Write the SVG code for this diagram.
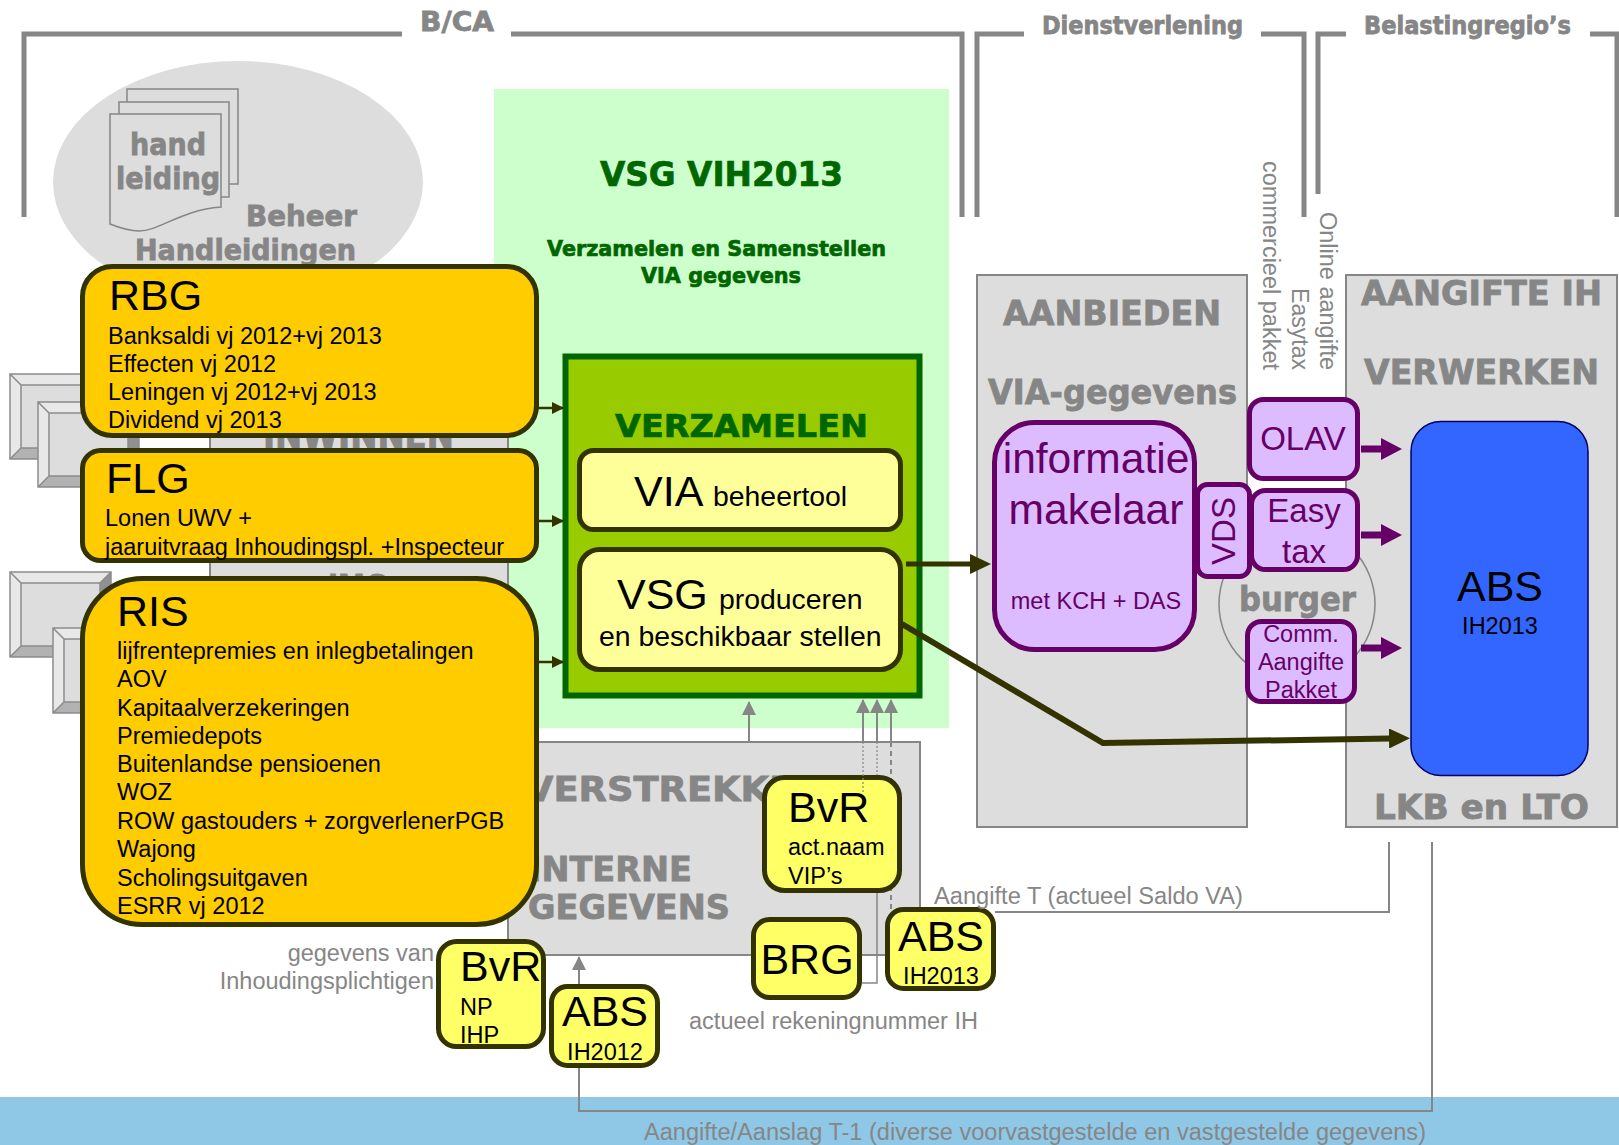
<svg xmlns="http://www.w3.org/2000/svg" width="1619" height="1145" viewBox="0 0 1619 1145">
<style>
text{font-family:"Liberation Sans",Arial,sans-serif}
.h{font-family:"DejaVu Sans",sans-serif;font-weight:bold;fill:#868686;stroke:#868686;stroke-width:.8px;font-size:34px}
.hs{font-size:24px}
.gb{font-family:"DejaVu Sans",sans-serif;font-weight:bold;fill:#006600;stroke:#006600;stroke-width:.7px}
.br{fill:none;stroke:#868686;stroke-width:5}
.panel{fill:#ddd;stroke:#868686;stroke-width:2}
.or{fill:#ffcc00;stroke:#333300;stroke-width:5}
.ye{fill:#ffff66;stroke:#333300;stroke-width:5}
.ly{fill:#ffff99;stroke:#333300;stroke-width:5}
.pu{fill:#dcbcff;stroke:#660066;stroke-width:5}
.pt{fill:#660066;text-anchor:middle}
.big{font-size:43px;fill:#000}
.sm{font-size:23.5px;fill:#000}
.md{font-size:28.4px;fill:#000}
.gt{font-size:23.5px;fill:#868686}
.m{text-anchor:middle}
.sheet{fill:#ddd;stroke:#868686;stroke-width:1.5}
.c{fill:none;stroke:#868686;stroke-width:2}
.d{fill:none;stroke:#333300}
.p{fill:none;stroke:#660066;stroke-width:7}
</style>
<defs>
<marker id="ag" markerUnits="userSpaceOnUse" markerWidth="14" markerHeight="14" refX="13" refY="7" orient="auto"><path d="M0 0L14 7L0 14Z" fill="#868686"/></marker>
<marker id="ad" markerUnits="userSpaceOnUse" markerWidth="12" markerHeight="12" refX="11" refY="6" orient="auto"><path d="M0 0L12 6L0 12Z" fill="#333300"/></marker>
<marker id="ab" markerUnits="userSpaceOnUse" markerWidth="21" markerHeight="20" refX="1" refY="10" orient="auto"><path d="M0 0L21 10L0 20Z" fill="#333300"/></marker>
<marker id="ap" markerUnits="userSpaceOnUse" markerWidth="21" markerHeight="22" refX="1" refY="11" orient="auto"><path d="M0 0L21 11L0 22Z" fill="#660066"/></marker>
<g id="bevel">
<rect width="101" height="85" fill="#ddd"/>
<path d="M0 0H101L90 11H11V74L0 85Z" fill="#e8e8e8"/>
<path d="M101 0V85L90 74V11Z" fill="#909090"/>
<path d="M0 85H101L90 74H11Z" fill="#b2b2b2"/>
<path d="M0 0H101V85H0ZM0 0L11 11H90V74H11V11M101 0L90 11M0 85L11 74M101 85L90 74" fill="none" stroke="#8c8c8c" stroke-width="1.5"/>
</g>
</defs>
<rect width="1619" height="1145" fill="#fff"/>
<rect id="band" y="1097" width="1619" height="48" fill="#8ec8e6"/>
<g id="headers">
<path class="br" d="M24 217V34H402"/><path class="br" d="M511 34H962V217"/>
<path class="br" d="M977 217V34H1024"/><path class="br" d="M1261 34H1304V217"/>
<path class="br" d="M1318 194V34H1346"/><path class="br" d="M1590 34H1617V217"/>
<text class="h" style="font-size:27px" x="420" y="31" textLength="74" lengthAdjust="spacingAndGlyphs">B/CA</text>
<text class="h hs" x="1042" y="34" textLength="201" lengthAdjust="spacingAndGlyphs">Dienstverlening</text>
<text class="h hs" x="1364" y="34" textLength="207" lengthAdjust="spacingAndGlyphs">Belastingregio’s</text>
</g>
<g id="handleidingen">
<ellipse cx="238" cy="182" rx="185" ry="121" fill="#ddd"/>
<rect class="sheet" x="127" y="89" width="111" height="95"/>
<rect class="sheet" x="119" y="102" width="110" height="95"/>
<path class="sheet" d="M110 114H221V207C180 210 160 231 139 231C128 231 120 228 110 224Z"/>
<text class="h" style="font-size:30px" x="130" y="155" textLength="76" lengthAdjust="spacingAndGlyphs">hand</text>
<text class="h" style="font-size:30px" x="116" y="189" textLength="104" lengthAdjust="spacingAndGlyphs">leiding</text>
<text class="h" style="font-size:28px" x="246" y="226" textLength="111" lengthAdjust="spacingAndGlyphs">Beheer</text>
<text class="h" style="font-size:28px" x="135" y="260" textLength="221" lengthAdjust="spacingAndGlyphs">Handleidingen</text>
</g>
<g id="vsg-bg">
<rect x="494" y="89" width="455" height="639" fill="#ccffcc"/>
<text class="gb" style="font-size:34px" x="600" y="186" textLength="243" lengthAdjust="spacingAndGlyphs">VSG VIH2013</text>
<text class="gb" style="font-size:21px" x="547" y="256" textLength="339" lengthAdjust="spacingAndGlyphs">Verzamelen en Samenstellen</text>
<text class="gb" style="font-size:21px" x="641" y="283" textLength="160" lengthAdjust="spacingAndGlyphs">VIA gegevens</text>
</g>
<g id="inwinnen">
<use href="#bevel" x="10" y="374"/>
<use href="#bevel" x="38" y="402"/>
<use href="#bevel" x="10" y="572"/>
<use href="#bevel" x="53" y="628"/>
<rect class="panel" x="210" y="300" width="298" height="500"/>
<text class="h" x="263" y="448" textLength="191" lengthAdjust="spacingAndGlyphs">INWINNEN</text>
<text class="h" x="328" y="599" textLength="59" lengthAdjust="spacingAndGlyphs">IMG</text>
</g>
<g id="verstrekken">
<rect class="panel" x="508" y="742" width="412" height="213"/>
<text class="h" x="525" y="801" textLength="300" lengthAdjust="spacingAndGlyphs">VERSTREKKEN</text>
<text class="h" x="529" y="881" textLength="163" lengthAdjust="spacingAndGlyphs">INTERNE</text>
<text class="h" x="528" y="919" textLength="202" lengthAdjust="spacingAndGlyphs">GEGEVENS</text>
</g>
<g id="aanbieden">
<rect class="panel" x="977" y="275" width="270" height="552"/>
<text class="h" x="1003" y="325" textLength="218" lengthAdjust="spacingAndGlyphs">AANBIEDEN</text>
<text class="h" x="988" y="404" textLength="249" lengthAdjust="spacingAndGlyphs">VIA-gegevens</text>
</g>
<g id="aangifte">
<rect class="panel" x="1346" y="275" width="271" height="552"/>
<text class="h" x="1361" y="305" textLength="241" lengthAdjust="spacingAndGlyphs">AANGIFTE IH</text>
<text class="h" x="1364" y="384" textLength="235" lengthAdjust="spacingAndGlyphs">VERWERKEN</text>
<text class="h" x="1374" y="819" textLength="215" lengthAdjust="spacingAndGlyphs">LKB en LTO</text>
</g>
<g id="burger">
<circle cx="1297" cy="604" r="78" fill="#ddd" stroke="#868686" stroke-width="1.5"/>
<text class="h" x="1239" y="611" textLength="117" lengthAdjust="spacingAndGlyphs">burger</text>
</g>
<g id="rotated-labels">
<text class="gt" transform="translate(1263 161) rotate(90)" textLength="209" lengthAdjust="spacingAndGlyphs">commercieel pakket</text>
<text class="gt" transform="translate(1292 288) rotate(90)" textLength="82" lengthAdjust="spacingAndGlyphs">Easytax</text>
<text class="gt" transform="translate(1320 212) rotate(90)" textLength="158" lengthAdjust="spacingAndGlyphs">Online aangifte</text>
</g>
<g id="verzamelen">
<rect x="565.5" y="356.5" width="354" height="339" fill="#99cc00" stroke="#006600" stroke-width="6"/>
<text class="gb" style="font-size:32px" x="615" y="437" textLength="253" lengthAdjust="spacingAndGlyphs">VERZAMELEN</text>
</g>
<g id="via">
<rect class="ly" x="579.5" y="450.5" width="321" height="79" rx="14"/>
<text class="big" x="634" y="506">VIA</text>
<text class="md" x="713" y="506">beheertool</text>
</g>
<g id="vsg">
<rect class="ly" x="579.5" y="549.5" width="321" height="120" rx="20"/>
<text class="big" x="617" y="609">VSG</text>
<text class="md" x="719" y="609">produceren</text>
<text class="md" x="599" y="646">en beschikbaar stellen</text>
</g>
<g id="connectors">
<path class="d" stroke-width="2.5" marker-end="url(#ad)" d="M538 408H563"/>
<path class="d" stroke-width="2.5" marker-end="url(#ad)" d="M538 521H563"/>
<path class="d" stroke-width="2.5" marker-end="url(#ad)" d="M538 662H563"/>
<path class="d" stroke-width="5" marker-end="url(#ab)" d="M906 564H971"/>
<path class="d" stroke-width="6" marker-end="url(#ab)" d="M902 624L1103 743L1390 738.5"/>
<path class="p" marker-end="url(#ap)" d="M1361 449H1382"/>
<path class="p" marker-end="url(#ap)" d="M1361 535H1382"/>
<path class="p" marker-end="url(#ap)" d="M1361 648H1382"/>
<path class="c" marker-end="url(#ag)" d="M749 742V702"/>
<path class="c" marker-end="url(#ag)" d="M863 742V700"/>
<path class="c" marker-end="url(#ag)" d="M877 742V700"/>
<path class="c" marker-end="url(#ag)" d="M891 742V700"/>
<path class="c" stroke-dasharray="5 4" d="M891 742V910"/>
<path class="c" style="stroke-width:1.2" stroke-dasharray="2 2" d="M877 742V780"/>
<path class="c" style="stroke-width:1.5" d="M877 890V983H862"/>
<path class="c" d="M1389 842V912H995"/>
<path class="c" marker-end="url(#ag)" d="M1432 842V1111H579V957"/>
</g>
<g id="info">
<rect class="pu" x="994.5" y="422.5" width="200" height="227" rx="40"/>
<text class="pt" style="font-size:42.5px" x="1096" y="473">informatie</text>
<text class="pt" style="font-size:42.5px" x="1096" y="524">makelaar</text>
<text class="pt" style="font-size:23.5px" x="1096" y="609">met KCH + DAS</text>
</g>
<g id="vds">
<rect class="pu" x="1197.5" y="484.5" width="52" height="92" rx="10"/>
<text class="pt" style="font-size:33px" transform="translate(1235 531) rotate(-90)">VDS</text>
</g>
<g id="olav">
<rect class="pu" x="1249.5" y="399.5" width="108" height="79" rx="14"/>
<text class="pt" style="font-size:33px" x="1303" y="450">OLAV</text>
</g>
<g id="easytax">
<rect class="pu" x="1251.5" y="490.5" width="106" height="79" rx="14"/>
<text class="pt" style="font-size:33px" x="1304" y="522">Easy</text>
<text class="pt" style="font-size:33px" x="1304" y="563">tax</text>
</g>
<g id="comm">
<rect class="pu" x="1247.5" y="621.5" width="107" height="80" rx="14"/>
<text class="pt" style="font-size:23.5px" x="1301" y="642">Comm.</text>
<text class="pt" style="font-size:23.5px" x="1301" y="670">Aangifte</text>
<text class="pt" style="font-size:23.5px" x="1301" y="698">Pakket</text>
</g>
<g id="abs-blue">
<rect x="1411" y="421.5" width="177" height="354" rx="30" fill="#3366ff" stroke="#000066" stroke-width="1.5"/>
<text class="big m" x="1500" y="601">ABS</text>
<text class="sm m" x="1500" y="634">IH2013</text>
</g>
<g id="rbg">
<rect class="or" x="82.5" y="266.5" width="454" height="169" rx="30"/>
<text class="big" x="109" y="310">RBG</text>
<text class="sm" x="108" y="344">Banksaldi vj 2012+vj 2013</text>
<text class="sm" x="108" y="372">Effecten vj 2012</text>
<text class="sm" x="108" y="400">Leningen vj 2012+vj 2013</text>
<text class="sm" x="108" y="428">Dividend vj 2013</text>
</g>
<g id="flg">
<rect class="or" x="82.5" y="450.5" width="454" height="110" rx="18"/>
<text class="big" x="106" y="493">FLG</text>
<text class="sm" x="105" y="526">Lonen UWV +</text>
<text class="sm" x="105" y="555">jaaruitvraag Inhoudingspl. +Inspecteur</text>
</g>
<g id="ris">
<rect class="or" x="82.5" y="578.5" width="454" height="346" rx="60"/>
<text class="big" x="117" y="626">RIS</text>
<text class="sm" x="117" y="659">lijfrentepremies en inlegbetalingen</text>
<text class="sm" x="117" y="687">AOV</text>
<text class="sm" x="117" y="716">Kapitaalverzekeringen</text>
<text class="sm" x="117" y="744">Premiedepots</text>
<text class="sm" x="117" y="772">Buitenlandse pensioenen</text>
<text class="sm" x="117" y="800">WOZ</text>
<text class="sm" x="117" y="829">ROW gastouders + zorgverlenerPGB</text>
<text class="sm" x="117" y="857">Wajong</text>
<text class="sm" x="117" y="886">Scholingsuitgaven</text>
<text class="sm" x="117" y="914">ESRR vj 2012</text>
</g>
<g id="bvr-act">
<rect class="ye" x="764.5" y="777.5" width="135" height="113" rx="20"/>
<text class="big" x="788" y="822">BvR</text>
<text class="sm" x="788" y="855">act.naam</text>
<text class="sm" x="788" y="884">VIP’s</text>
</g>
<path class="c" style="stroke-width:1.2" stroke-dasharray="2 2" d="M863 742V793"/>
<g id="brg">
<rect class="ye" x="753.5" y="919.5" width="106" height="78" rx="16"/>
<text class="big m" x="807" y="974">BRG</text>
</g>
<g id="abs2013">
<rect class="ye" x="887.5" y="909.5" width="106" height="79" rx="16"/>
<text class="big m" x="941" y="951">ABS</text>
<text class="sm m" x="941" y="984">IH2013</text>
</g>
<g id="bvr-np">
<rect class="ye" x="438.5" y="941.5" width="105" height="105" rx="18"/>
<text class="big" x="460" y="981">BvR</text>
<text class="sm" x="460" y="1015">NP</text>
<text class="sm" x="460" y="1043">IHP</text>
</g>
<g id="abs2012">
<rect class="ye" x="551.5" y="986.5" width="106" height="79" rx="16"/>
<text class="big m" x="605" y="1026">ABS</text>
<text class="sm m" x="605" y="1060">IH2012</text>
</g>
<g id="labels">
<text class="gt" x="644" y="1140" textLength="782" lengthAdjust="spacingAndGlyphs">Aangifte/Aanslag T-1 (diverse voorvastgestelde en vastgestelde gegevens)</text>
<text class="gt" x="934" y="904" textLength="309" lengthAdjust="spacingAndGlyphs">Aangifte T (actueel Saldo VA)</text>
<text class="gt" x="689" y="1029" textLength="289" lengthAdjust="spacingAndGlyphs">actueel rekeningnummer IH</text>
<text class="gt" x="434" y="961" text-anchor="end">gegevens van</text>
<text class="gt" x="434" y="989" text-anchor="end">Inhoudingsplichtigen</text>
</g>
</svg>
